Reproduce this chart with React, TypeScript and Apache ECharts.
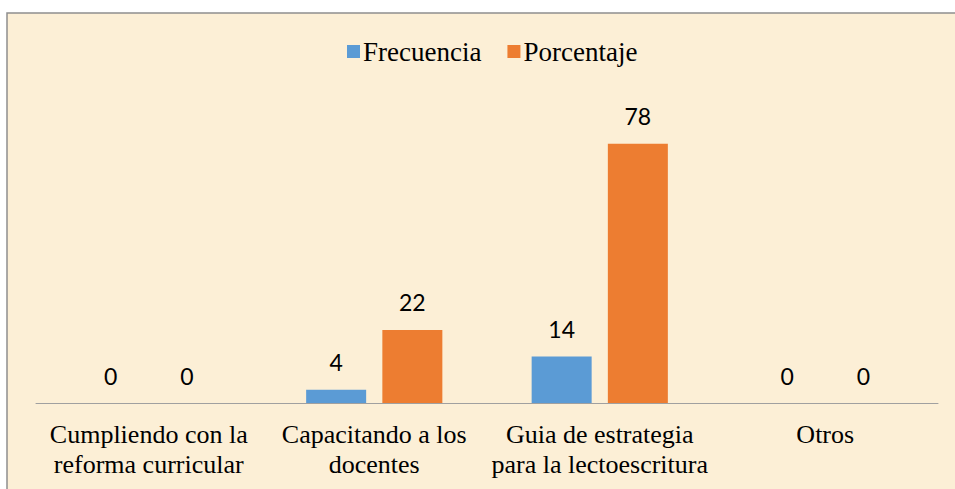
import React, { useEffect, useRef } from "react";
import * as echarts from "echarts";

const categories = [
  "Cumpliendo con la\nreforma curricular",
  "Capacitando a los\ndocentes",
  "Guia de estrategia\npara la lectoescritura",
  "Otros",
];
const frecuencia = [0, 4, 14, 0];
const porcentaje = [0, 22, 78, 0];
const seriesNames = ["Frecuencia", "Porcentaje"];

export default function App() {
  const ref = useRef<HTMLDivElement>(null);
  useEffect(() => {
    if (!ref.current) return;
    const chart = echarts.init(ref.current, null, { renderer: "svg" });
    const labelStyle = {
      show: true,
      position: "top" as const,
      distance: 16,
      fontFamily: "Lato, 'Liberation Sans', sans-serif",
      fontSize: 23,
      color: "#000",
    };
    chart.setOption({
      animation: false,
      backgroundColor: "#ffffff",
      graphic: [
        {
          type: "rect",
          silent: true,
          z: -10,
          shape: { x: 7, y: 13, width: 980, height: 520 },
          style: { fill: "#fcefd6", stroke: "#8f8f8f", lineWidth: 1.5 },
        },
      ],
      legend: {
        top: 33,
        left: 342,
        itemWidth: 13,
        itemHeight: 13,
        itemGap: 26,
        icon: "rect",
        textStyle: {
          fontFamily: "'Liberation Serif', 'Times New Roman', serif",
          fontSize: 27,
          color: "#000",
          padding: [0, 0, 0, -2],
        },
        data: seriesNames,
      },
      grid: { left: 36, right: 17, top: 104, bottom: 86, containLabel: false },
      xAxis: {
        type: "category",
        data: categories,
        axisLine: { show: true, lineStyle: { color: "#a0a0a0", width: 1 } },
        axisTick: { show: false },
        axisLabel: {
          interval: 0,
          margin: 16,
          fontFamily: "'Liberation Serif', 'Times New Roman', serif",
          fontSize: 26,
          lineHeight: 30,
          color: "#000",
        },
      },
      yAxis: {
        type: "value",
        min: 0,
        max: 90,
        show: false,
        splitLine: { show: false },
      },
      series: [
        {
          name: seriesNames[0],
          type: "bar",
          data: frecuencia,
          barWidth: 60,
          barGap: "27%",
          itemStyle: { color: "#5b9bd5" },
          label: labelStyle,
        },
        {
          name: seriesNames[1],
          type: "bar",
          data: porcentaje,
          barWidth: 60,
          barGap: "27%",
          itemStyle: { color: "#ed7d31" },
          label: labelStyle,
        },
      ],
    });
    return () => chart.dispose();
  }, []);
  return (
    <div
      style={{ position: "fixed", left: 0, top: 0, width: 955, height: 489, background: "#fff" }}
    >
      <div ref={ref} style={{ width: 955, height: 489 }} />
    </div>
  );
}
